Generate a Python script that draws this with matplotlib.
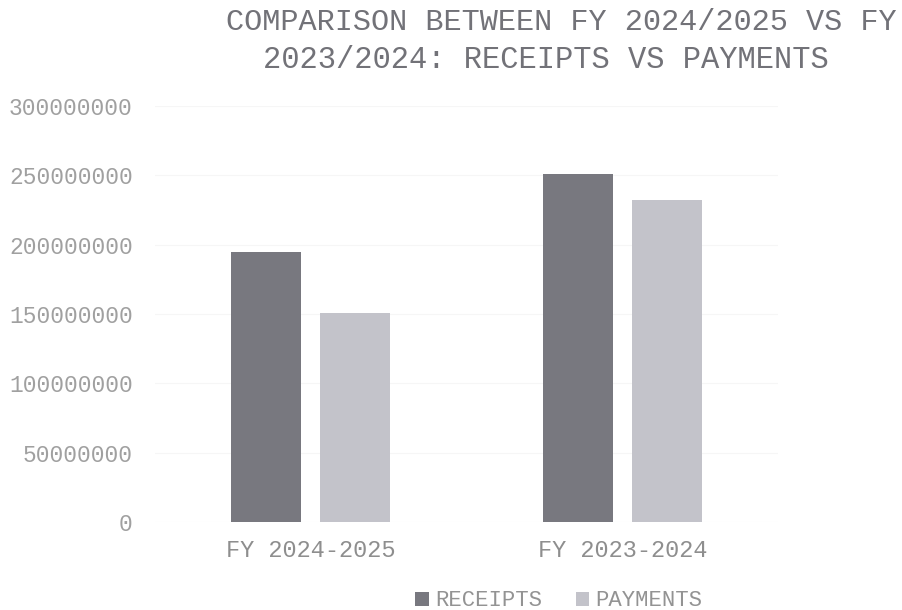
import matplotlib
matplotlib.use("Agg")
import matplotlib.pyplot as plt
import numpy as np

categories = ["FY 2024-2025", "FY 2023-2024"]
receipts = [195000000, 251000000]
payments = [150500000, 232000000]
yticks = [0, 50000000, 100000000, 150000000, 200000000, 250000000, 300000000]
title_line1 = "COMPARISON BETWEEN FY 2024/2025 VS FY"
title_line2 = "2023/2024: RECEIPTS VS PAYMENTS"

FONT = "Liberation Mono"
W, H = 902, 610
fig = plt.figure(figsize=(W / 100, H / 100), dpi=100)
ax = fig.add_axes([155 / W, 88 / H, (778 - 155) / W, (522 - 106) / H])

x = np.arange(len(categories))
bw = 0.225
gap = 0.061
c_rec = "#78787f"
c_pay = "#c3c3ca"
ax.bar(x - (bw + gap) / 2, receipts, bw, color=c_rec, label="RECEIPTS", zorder=3)
ax.bar(x + (bw + gap) / 2, payments, bw, color=c_pay, label="PAYMENTS", zorder=3)

ax.set_xlim(-0.5, 1.5)
ax.set_ylim(0, 300000000)
ax.set_yticks(yticks)
ax.set_yticklabels([str(v) for v in yticks], fontfamily=FONT, fontsize=16.5, color="#a0a0a0")
ax.set_xticks(x)
ax.set_xticklabels(categories, fontfamily=FONT, fontsize=17, color="#8e8e8e")
ax.tick_params(axis="y", length=0, pad=16)
ax.tick_params(axis="x", length=0, pad=12)
ax.grid(axis="y", color="#f6f6f6", linewidth=0.8, zorder=0)
for s in ax.spines.values():
    s.set_visible(False)

fig.text(226 / W, 1 - 22 / H, title_line1, ha="left", va="center",
         fontfamily=FONT, fontsize=21.8, color="#727278")
fig.text(263 / W, 1 - 60 / H, title_line2, ha="left", va="center",
         fontfamily=FONT, fontsize=22, color="#727278")

leg = fig.legend(loc="center", bbox_to_anchor=(559 / W, 1 - 601 / H), ncol=2,
                 frameon=False, handlelength=0.6, handleheight=0.6,
                 handletextpad=0.3, columnspacing=1.5,
                 prop={"family": FONT, "size": 16})
for t in leg.get_texts():
    t.set_color("#939393")

fig.savefig("out.png", dpi=100, facecolor="white")
